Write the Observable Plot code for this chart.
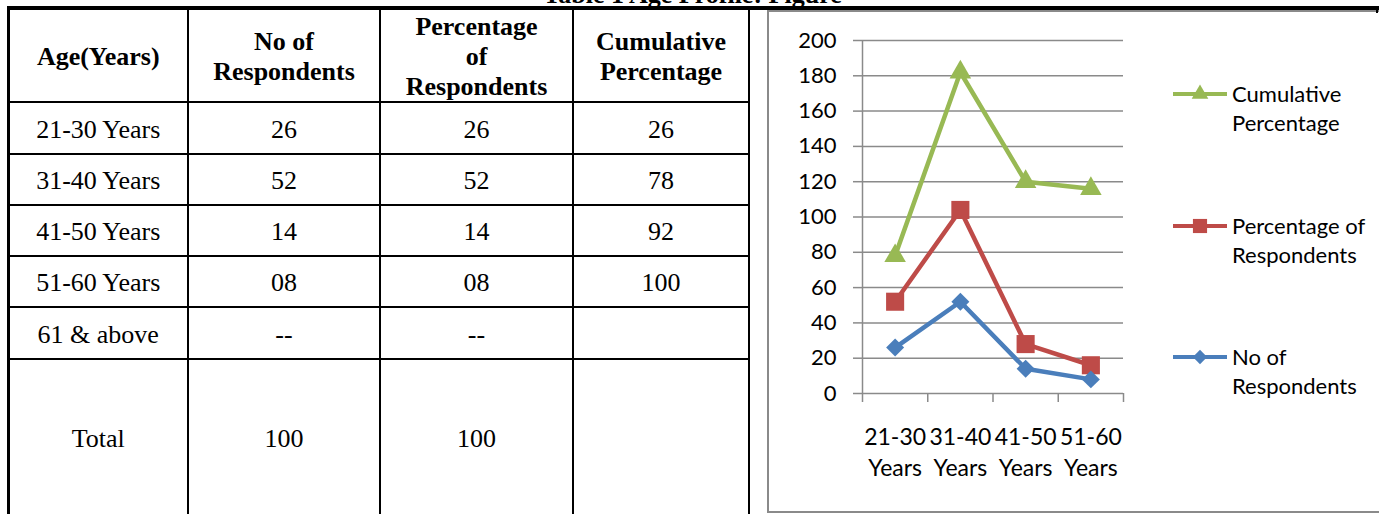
<!DOCTYPE html>
<html>
<head>
<meta charset="utf-8">
<script src="https://cdn.jsdelivr.net/npm/d3@7"></script>
<script src="https://cdn.jsdelivr.net/npm/@observablehq/plot@0.6"></script>
<style>
  html, body { margin: 0; padding: 0; background: #fff; }
  body { width: 1379px; height: 514px; position: relative; overflow: hidden; }
  .serif { font-family: "Liberation Serif", "Times New Roman", serif; color: #000; }
  #title { position: absolute; left: 0; width: 1385px; top: -18px; text-align: center;
           font-size: 26px; font-weight: bold; line-height: 26px; white-space: nowrap; }
  .rule { position: absolute; background: #000; }
  .cell { position: absolute; display: flex; align-items: center; justify-content: center;
          text-align: center; font-size: 26px; line-height: 30px; white-space: pre-line;
          padding-top: 3px; box-sizing: border-box; }
  .head { font-weight: bold; }
  #chartbox { position: absolute; left: 767px; top: 10px; width: 620px; height: 503px;
              border: 2px solid #8a8a8a; box-sizing: border-box; }
  #plot { position: absolute; left: 770px; top: 12px; }
  #legend { position: absolute; left: 1160px; top: 60px; }
</style>
</head>
<body>
<div id="title" class="serif">Table 1 Age Profile: Figure</div>
<div id="chartbox"></div>
<div id="table" class="serif"></div>
<div id="plot"></div>
<div id="legend"></div>
<script>
// ---- Table contents ----
const tableHeaders = ["Age(Years)", "No of\nRespondents", "Percentage\nof\nRespondents", "Cumulative\nPercentage"];
const ageGroups = ["21-30 Years", "31-40 Years", "41-50 Years", "51-60 Years", "61 & above", "Total"];
const respondentsText = ["26", "52", "14", "08", "--", "100"];
const percentageText = ["26", "52", "14", "08", "--", "100"];
const cumulativeText = ["26", "78", "92", "100", "", ""];

// ---- Chart series ----
const categories = ["21-30 Years", "31-40 Years", "41-50 Years", "51-60 Years"];
const seriesNames = ["No of Respondents", "Percentage of Respondents", "Cumulative Percentage"];
const noOfRespondents = [26, 52, 14, 8];
const percentageOfRespondents = [26, 52, 14, 8];
const cumulativePercentage = [26, 78, 92, 100];
const yTicks = [0, 20, 40, 60, 80, 100, 120, 140, 160, 180, 200];

// ---- Table layout ----
const colX = [8.5, 188, 380, 573, 749];
const rowY = [8, 102, 154, 205, 256, 307, 359, 515];
const tableEl = d3.select("#table");

function rule(x, y, w, h) {
  tableEl.append("div").attr("class", "rule")
    .style("left", x + "px").style("top", y + "px")
    .style("width", w + "px").style("height", h + "px");
}
function cell(text, c, r, cls) {
  tableEl.append("div").attr("class", "cell " + (cls || ""))
    .style("left", colX[c] + "px").style("top", rowY[r] + "px")
    .style("width", (colX[c + 1] - colX[c]) + "px")
    .style("height", (rowY[r + 1] - rowY[r]) + "px")
    .text(text);
}

tableHeaders.forEach((h, c) => cell(h, c, 0, "head"));
const bodyColumns = [ageGroups, respondentsText, percentageText, cumulativeText];
bodyColumns.forEach((col, c) => col.forEach((t, r) => cell(t, c, r + 1)));

rule(7, 6, 1372, 4);          // top border across the whole layout
rule(1376, 6, 2, 7);
rule(7, 6, 3, 510);           // thick left border
[187, 379, 572, 748].forEach(x => rule(x, 10, 2, 506));
rowY.slice(1, -1).forEach(y => rule(10, y - 1, 739, 2));

// ---- Chart ----
const gridColor = "#8a8a8a";
const colors = ["#4A7EBB", "#BE4B48", "#98B954"];
const symbols = ["diamond2", "square", "triangle"];
const markerR = {"No of Respondents": 8.1, "Percentage of Respondents": 10.2, "Cumulative Percentage": 8};

const seriesValues = [noOfRespondents, percentageOfRespondents, cumulativePercentage];
const rows = [];
categories.forEach((cat, i) => {
  seriesNames.forEach((s, k) => rows.push({i, category: cat, series: s, value: seriesValues[k][i]}));
});

const chart = Plot.plot({
  width: 600,
  height: 498,
  marginLeft: 92,
  marginRight: 247,
  marginTop: 28,
  marginBottom: 117,
  style: {fontFamily: "Lato, sans-serif", fontSize: "22px", color: "#000", background: "transparent", overflow: "visible"},
  x: {domain: [-0.5, 3.5]},
  y: {domain: [0, 200]},
  color: {domain: seriesNames, range: colors},
  symbol: {domain: seriesNames, range: symbols},
  r: {type: "identity"},
  marks: [
    Plot.ruleY(yTicks, {stroke: gridColor, strokeWidth: 1.5}),
    Plot.ruleX([-0.5], {y1: 0, y2: 200, stroke: gridColor, strokeWidth: 1.5}),
    Plot.axisY({ticks: yTicks, tickSize: 9, tickPadding: 17, stroke: gridColor, strokeWidth: 1.5,
                fill: "#000", fontSize: 22, tickFormat: d => String(d), label: null}),
    Plot.axisX({ticks: [-0.5, 0.5, 1.5, 2.5, 3.5], tickSize: 9, stroke: gridColor, strokeWidth: 1.5,
                tickFormat: () => "", label: null}),
    Plot.text(categories, {x: (d, i) => i, y: 0, text: d => d.replace(" ", "\n"),
                           lineAnchor: "top", dy: 29, lineHeight: 1.36, fontSize: 23, fill: "#000"}),
    Plot.lineY(rows, Plot.stackY2({x: "i", y: "value", z: "series", stroke: "series", strokeWidth: 4.5})),
    Plot.dot(rows, Plot.stackY2({x: "i", y: "value", z: "series", fill: "series", symbol: "series",
                                 r: d => markerR[d.series]}))
  ]
});
document.getElementById("plot").appendChild(chart);

// ---- Legend (top to bottom: Cumulative, Percentage, No of) ----
const legendItems = [
  {k: 2, lines: ["Cumulative", "Percentage"], y: 34, size: 120},
  {k: 1, lines: ["Percentage of", "Respondents"], y: 166, size: 200},
  {k: 0, lines: ["No of", "Respondents"], y: 297, size: 130}
];
const legend = d3.select("#legend").append("svg")
  .attr("width", 219).attr("height", 360)
  .style("font-family", "Lato, sans-serif").style("font-size", "22px");
legendItems.forEach(item => {
  const g = legend.append("g").attr("transform", `translate(0,${item.y})`);
  g.append("line").attr("x1", 13).attr("x2", 67).attr("y1", 0).attr("y2", 0)
    .attr("stroke", colors[item.k]).attr("stroke-width", 4);
  const symType = [d3.symbolDiamond2, d3.symbolSquare, d3.symbolTriangle][item.k];
  g.append("path").attr("transform", "translate(40,0)")
    .attr("d", d3.symbol(symType, item.size)())
    .attr("fill", colors[item.k]);
  item.lines.forEach((t, j) => {
    g.append("text").attr("x", 72).attr("y", j * 29.5).attr("dy", "0.35em")
      .attr("fill", "#000").text(t);
  });
});
</script>
</body>
</html>
